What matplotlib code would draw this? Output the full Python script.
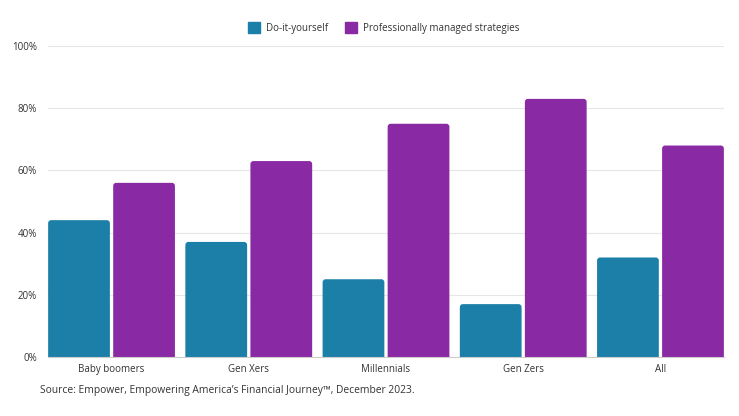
import matplotlib
matplotlib.use('Agg')
import matplotlib.pyplot as plt
from matplotlib.patches import FancyBboxPatch, Patch
import numpy as np

plt.rcParams['font.family'] = ['Open Sans', 'DejaVu Sans']

categories = ['Baby boomers', 'Gen Xers', 'Millennials', 'Gen Zers', 'All']
diy = [44, 37, 25, 17, 32]
managed = [56, 63, 75, 83, 68]
series_names = ['Do-it-yourself', 'Professionally managed strategies']
colors = ['#1c7fa8', '#8929a3']

fig = plt.figure(figsize=(7.39, 4.16), dpi=100)
ax = fig.add_axes([48/739, 59/416, 676/739, 311/416])

x = np.arange(len(categories))
w = 0.45
off = 0.237
bars = []
bars += list(ax.bar(x - off, diy, w, color=colors[0]))
bars += list(ax.bar(x + off, managed, w, color=colors[1]))

# swap plain bars for ones with rounded tops
for b in bars:
    bx, bw, bh = b.get_x(), b.get_width(), b.get_height()
    p = FancyBboxPatch((bx, -5), bw, bh + 5,
                       boxstyle='round,pad=0,rounding_size=0.022',
                       mutation_aspect=44, facecolor=b.get_facecolor(),
                       edgecolor='none', clip_on=True, zorder=3)
    ax.add_patch(p)
    b.remove()

ax.set_xlim(-0.463, len(categories) - 1 + 0.463)
ax.set_ylim(0, 100)
ax.set_yticks([0, 20, 40, 60, 80, 100])
ax.set_yticklabels(['0%', '20%', '40%', '60%', '80%', '100%'])
ax.set_xticks(x)
ax.set_xticklabels(categories)
ax.tick_params(length=0, labelsize=7, colors='#333333')
ax.tick_params(axis='y', pad=8)
ax.tick_params(axis='x', pad=5)
ax.grid(axis='y', color='#e6e6e6', linewidth=0.8, zorder=0)
ax.set_axisbelow(True)
for s in ['top', 'right', 'left']:
    ax.spines[s].set_visible(False)
ax.spines['bottom'].set_color('#cccccc')
ax.spines['bottom'].set_zorder(4)

handles = [Patch(color=c) for c in colors]
fig.legend(handles, series_names, loc='center', bbox_to_anchor=(384/739, 1 - 28/416),
           ncol=2, frameon=False, fontsize=7, handlelength=1.25, handleheight=1.25,
           columnspacing=1.75, handletextpad=0.6, labelcolor='#333333')

fig.text(40/739, 1 - 391/416, 'Source: Empower, Empowering America\u2019s Financial Journey\u2122, December 2023.',
         fontsize=7.4, color='#333333', va='center', ha='left')

fig.savefig('out.png', dpi=100)
